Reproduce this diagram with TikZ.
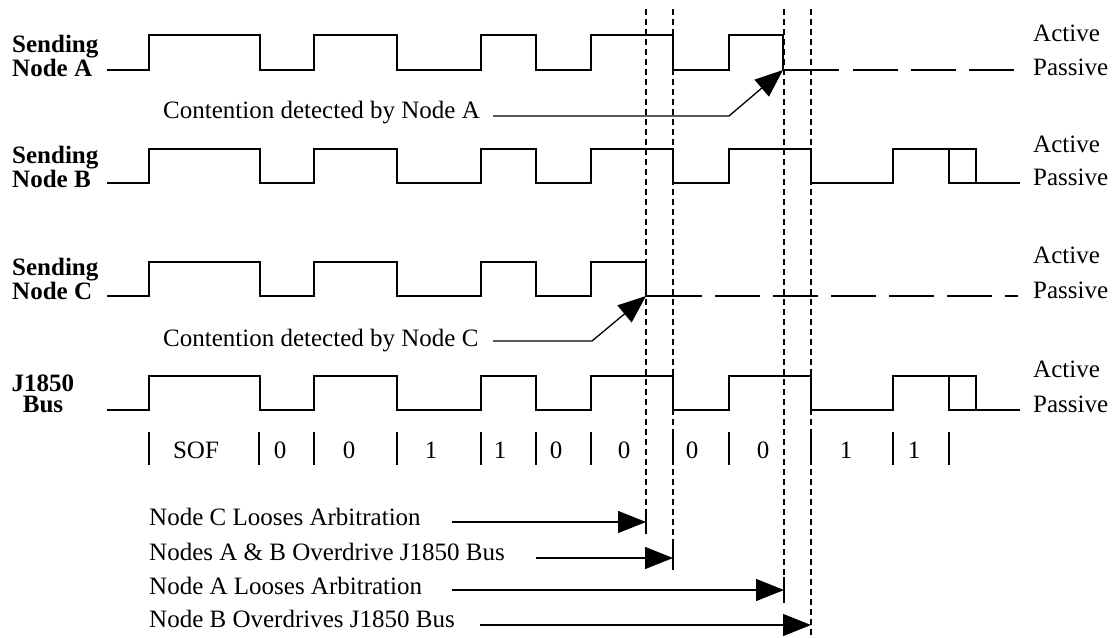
\documentclass[tikz,border=0pt]{standalone}
\usepackage{fontspec}
\setmainfont{Liberation Serif}
\usetikzlibrary{arrows.meta}
\begin{document}
\begin{tikzpicture}[x=1pt,y=-1pt,
  wave/.style={line width=1.3pt, line join=miter},
  passdash/.style={line width=1.3pt, dash pattern=on 45pt off 13pt},
  vdash/.style={line width=1.2pt, dash pattern=on 6pt off 4pt},
  tick/.style={line width=1.3pt},
  arr/.style={line width=1.3pt, -{Triangle[length=28pt,width=22pt]}},
  lbl/.style={inner sep=0pt, font=\fontsize{25}{22}\selectfont},
  blbl/.style={inner sep=0pt, font=\fontsize{25}{21}\selectfont\bfseries}]
\useasboundingbox (0,0) rectangle (1113,637);

% row labels
\node[blbl,align=left,anchor=north west] (lA) at (12,35) {Sending\\Node A};
\node[blbl,align=left,anchor=north west] (lB) at (12,146) {Sending\\Node B};
\node[blbl,align=left,anchor=north west] (lC) at (12,258) {Sending\\Node C};
\node[blbl,align=center,anchor=north] (lD) at (43,375) {J1850\\Bus};

% active/passive labels
\node[lbl,anchor=base west] (aA) at (1033,41) {Active};
\node[lbl,anchor=base west] (pA) at (1033,75) {Passive};
\node[lbl,anchor=base west] (aB) at (1033,152) {Active};
\node[lbl,anchor=base west] (pB) at (1033,185) {Passive};
\node[lbl,anchor=base west] (aC) at (1033,263) {Active};
\node[lbl,anchor=base west] (pC) at (1033,298) {Passive};
\node[lbl,anchor=base west] (aD) at (1033,377) {Active};
\node[lbl,anchor=base west] (pD) at (1033,412) {Passive};

% vertical dashed lines
\draw[vdash] (646,9) -- (646,511);
\draw[vdash] (673,9) -- (673,544);
\draw[vdash] (784,9) -- (784,577);
\draw[vdash] (811,9) -- (811,637);

% Node A waveform
\draw[wave] (107,70) -- (149,70) -- (149,35) -- (260,35) -- (260,70) -- (314,70) -- (314,35) -- (397,35) -- (397,70) -- (481,70) -- (481,35) -- (536,35) -- (536,70) -- (591,70) -- (591,35) -- (673,35) -- (673,70) -- (729,70) -- (729,35) -- (783,35) -- (783,70) -- (839,70);
\draw[passdash] (853,70) -- (1016,70);

% Node B waveform
\draw[wave] (107,183) -- (149,183) -- (149,149) -- (260,149) -- (260,183) -- (314,183) -- (314,149) -- (397,149) -- (397,183) -- (481,183) -- (481,149) -- (536,149) -- (536,183) -- (591,183) -- (591,149) -- (673,149) -- (673,183) -- (729,183) -- (729,149) -- (811,149) -- (811,183) -- (893,183) -- (893,149) -- (976,149) -- (976,183) -- (1020,183);
\draw[wave] (949,149) -- (949,183) -- (976,183);

% Node C waveform
\draw[wave] (107,296) -- (149,296) -- (149,262) -- (260,262) -- (260,296) -- (314,296) -- (314,262) -- (397,262) -- (397,296) -- (481,296) -- (481,262) -- (536,262) -- (536,296) -- (591,296) -- (591,262) -- (646,262) -- (646,296) -- (702,296);
\draw[passdash] (715,296) -- (1018,296);

% Bus waveform
\draw[wave] (107,410) -- (149,410) -- (149,376) -- (260,376) -- (260,410) -- (314,410) -- (314,376) -- (397,376) -- (397,410) -- (481,410) -- (481,376) -- (536,376) -- (536,410) -- (591,410) -- (591,376) -- (673,376) -- (673,410) -- (729,410) -- (729,376) -- (811,376) -- (811,410) -- (893,410) -- (893,376) -- (976,376) -- (976,410) -- (1020,410);
\draw[wave] (949,376) -- (949,410) -- (976,410);

% contention labels
\node[lbl,anchor=base west] (ctA) at (163,118) {Contention detected by Node A};
\coordinate (ctAs) at (493,116);
\coordinate (ctAk) at (729,116);
\coordinate (ctAt) at (783,70);
\draw[arr] (ctAs) -- (ctAk) -- (ctAt);

\node[lbl,anchor=base west] (ctC) at (163,346) {Contention detected by Node C};
\coordinate (ctCs) at (493,341);
\coordinate (ctCk) at (592,341);
\coordinate (ctCt) at (646,296);
\draw[arr] (ctCs) -- (ctCk) -- (ctCt);

% bit ticks
\foreach \x in {149,259,314,397,481,536,591,673,729,811,893,949}
  \draw[tick] (\x,432) -- (\x,465);
\node[lbl,anchor=base] (bSOF) at (196,458) {SOF};
\node[lbl,anchor=base] (b1) at (280,458) {0};
\node[lbl,anchor=base] (b2) at (349,458) {0};
\node[lbl,anchor=base] (b3) at (431,458) {1};
\node[lbl,anchor=base] (b4) at (500,458) {1};
\node[lbl,anchor=base] (b5) at (556,458) {0};
\node[lbl,anchor=base] (b6) at (624,458) {0};
\node[lbl,anchor=base] (b7) at (692,458) {0};
\node[lbl,anchor=base] (b8) at (763,458) {0};
\node[lbl,anchor=base] (b9) at (846,458) {1};
\node[lbl,anchor=base] (b10) at (914,458) {1};

% bottom annotations
\node[lbl,anchor=base west] (n1) at (149,525) {Node C Looses Arbitration};
\coordinate (n1s) at (452,522);
\coordinate (n1t) at (646,522);
\draw[arr] (n1s) -- (n1t);
\draw[tick] (646,511) -- (646,534);

\node[lbl,anchor=base west] (n2) at (149,560) {Nodes A \& B Overdrive J1850 Bus};
\coordinate (n2s) at (536,558);
\coordinate (n2t) at (673,558);
\draw[arr] (n2s) -- (n2t);
\draw[tick] (673,544) -- (673,570);

\node[lbl,anchor=base west] (n3) at (149,594) {Node A Looses Arbitration};
\coordinate (n3s) at (452,590);
\coordinate (n3t) at (784,590);
\draw[arr] (n3s) -- (n3t);
\draw[tick] (784,577) -- (784,603);

\node[lbl,anchor=base west] (n4) at (149,627) {Node B Overdrives J1850 Bus};
\coordinate (n4s) at (480,625);
\coordinate (n4t) at (811,625);
\draw[arr] (n4s) -- (n4t);
\end{tikzpicture}
\end{document}
